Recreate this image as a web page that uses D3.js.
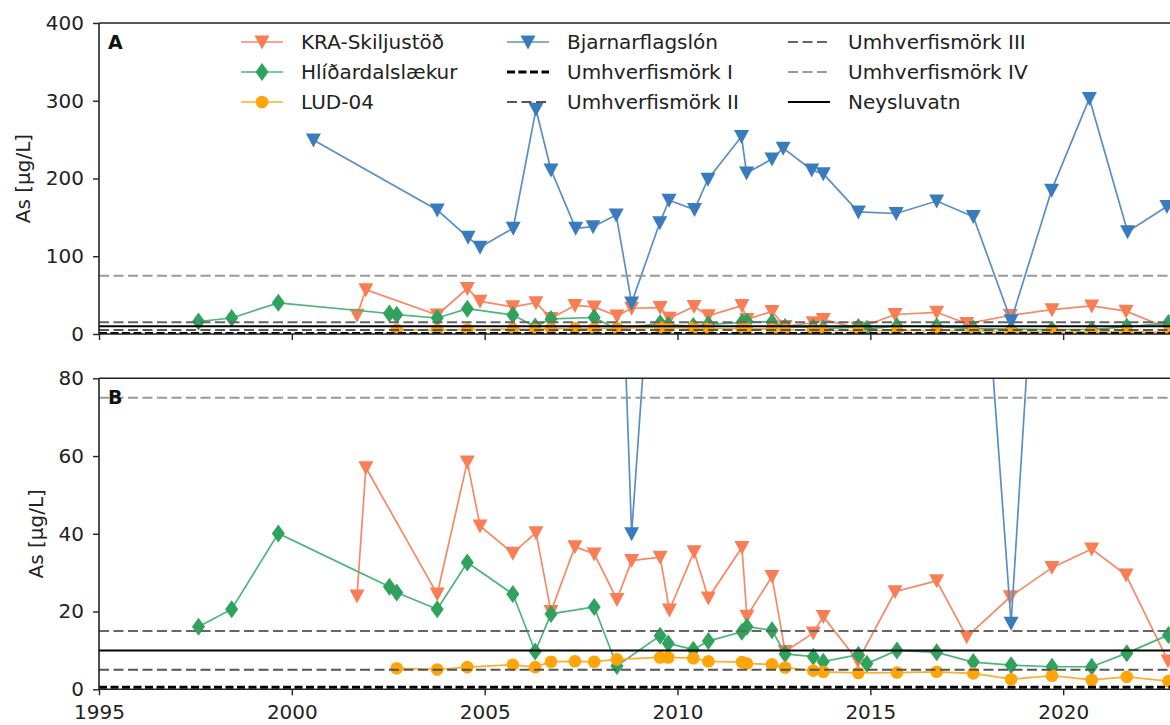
<!DOCTYPE html>
<html><head><meta charset="utf-8">
<script src="https://cdn.jsdelivr.net/npm/d3@7"></script>
<style>
body{margin:0;background:#fff;}
svg{display:block;font-family:"DejaVu Sans",sans-serif;}
</style>
</head><body>
<svg id="chart" width="1170" height="725"></svg>
<script>
// ---------- data ----------
const kraYears  = [2001.69,2001.92,2003.77,2004.55,2004.88,2005.73,2006.33,2006.72,2007.34,2007.84,2008.43,2008.81,2009.55,2009.79,2010.43,2010.80,2011.67,2011.80,2012.45,2012.79,2013.52,2013.78,2014.68,2015.64,2016.72,2017.50,2018.63,2019.71,2020.74,2021.63,2022.72];
const kraValues = [24,57,24.5,58.5,42,35,40.3,20,36.7,34.8,23.1,33.1,34,20.4,35.4,23.5,36.5,18.8,29,9.7,14.5,18.7,7.3,25.1,27.9,13.5,23.8,31.3,36.1,29.4,7.3];

const hliYears  = [1997.58,1998.44,1999.65,2002.53,2002.72,2003.77,2004.55,2005.73,2006.31,2006.72,2007.84,2008.43,2009.55,2009.76,2010.41,2010.80,2011.67,2011.80,2012.45,2012.79,2013.52,2013.78,2014.69,2014.91,2015.69,2016.72,2017.67,2018.65,2019.71,2020.74,2021.65,2022.73];
const hliValues = [16.1,20.6,40.1,26.4,24.9,20.6,32.6,24.5,9.7,19.4,21.2,6,13.8,11.8,10.2,12.4,14.8,16.1,15.2,9.1,8.4,7.1,8.9,6.6,10,9.5,7,6.2,5.8,5.8,9.3,14];

const ludYears  = [2002.72,2003.77,2004.55,2005.73,2006.31,2006.72,2007.34,2007.84,2008.43,2009.55,2009.76,2010.41,2010.80,2011.67,2011.80,2012.45,2012.79,2013.52,2013.78,2014.69,2015.69,2016.72,2017.67,2018.65,2019.71,2020.74,2021.65,2022.73];
const ludValues = [5.4,5.1,5.7,6.3,5.7,7.1,7.2,7.1,7.7,8.2,8.2,8.0,7.2,7.0,6.6,6.4,5.6,4.8,4.5,4.2,4.3,4.5,4.1,2.6,3.5,2.4,3.2,2.1];

const bjaYears  = [2000.56,2003.77,2004.57,2004.88,2005.74,2006.33,2006.72,2007.36,2007.81,2008.41,2008.81,2009.54,2009.78,2010.44,2010.79,2011.66,2011.79,2012.45,2012.74,2013.48,2013.78,2014.69,2015.67,2016.72,2017.67,2018.65,2019.70,2020.68,2021.67,2022.69];
const bjaValues = [249.5,159.5,124.4,111.5,136,289,211,136,138,153,40,143,172,160,199,254,207,225,239,211,206,157,155,171,151,17,185,303,131.5,164];

const seriesNames = ["KRA-Skiljustöð","Hlíðardalslækur","LUD-04","Bjarnarflagslón"];
const refNames  = ["Umhverfismörk I","Umhverfismörk II","Umhverfismörk III","Umhverfismörk IV","Neysluvatn"];
const refValues = [0.5,5,15,75,10];

const xTicks = [1995,2000,2005,2010,2015,2020];
const yTicksA = [0,100,200,300,400];
const yTicksB = [0,20,40,60,80];
const panelLabels = ["A","B"];
const yLabel = "As [µg/L]";

// ---------- styles ----------
const seriesStyle = [
  {color:"#f97d55", line:"#f58a66", marker:"tri"},
  {color:"#2fa25e", line:"#4cb57c", marker:"dia"},
  {color:"#ffa50a", line:"#f8b030", marker:"circ"},
  {color:"#3a7bbd", line:"#5a8fc6", marker:"tri"}
];
const refStyle = [
  {color:"#000", width:3, dash:"8,3.5"},
  {color:"#555", width:2, dash:"10,4.5"},
  {color:"#666", width:2, dash:"10,4.5"},
  {color:"#9a9a9a", width:2, dash:"10,4.5"},
  {color:"#000", width:2, dash:null}
];

const svg = d3.select("#chart");
const x = d3.scaleLinear().domain([1995, 2022.77]).range([99, 1170]);

const panels = [
  {top:23, bottom:334, domain:[0,400], ticks:yTicksA, label:panelLabels[0], ylabX:23},
  {top:378.3, bottom:689.3, domain:[0,80], ticks:yTicksB, label:panelLabels[1], ylabX:36}
];

const seriesData = [
  d3.zip(kraYears,kraValues),
  d3.zip(hliYears,hliValues),
  d3.zip(ludYears,ludValues),
  d3.zip(bjaYears,bjaValues)
];

function markerPath(type){
  if(type==="tri") return "M-7.5,-6.5L7.5,-6.5L0,7.5Z";
  if(type==="dia") return "M0,-9L6.5,0L0,9L-6.5,0Z";
  return d3.symbol(d3.symbolCircle, 125)();
}

panels.forEach((p,pi)=>{
  const y = d3.scaleLinear().domain(p.domain).range([p.bottom,p.top]);
  const g = svg.append("g");
  const clipId = "clip"+pi;
  svg.append("defs").append("clipPath").attr("id",clipId)
    .append("rect").attr("x",99).attr("y",p.top).attr("width",1170-99).attr("height",p.bottom-p.top);
  const plot = g.append("g").attr("clip-path",`url(#${clipId})`);

  // series
  seriesData.forEach((d,si)=>{
    const st = seriesStyle[si];
    plot.append("path").datum(d)
      .attr("fill","none").attr("stroke",st.line).attr("stroke-width",1.7)
      .attr("d", d3.line().x(v=>x(v[0])).y(v=>y(v[1])));
    plot.selectAll(null).data(d).enter().append("path")
      .attr("transform",v=>`translate(${x(v[0])},${y(v[1])})`)
      .attr("d",markerPath(st.marker)).attr("fill",st.color);
  });

  // reference lines
  refValues.forEach((v,ri)=>{
    const st = refStyle[ri];
    plot.append("line").attr("x1",99).attr("x2",1170).attr("y1",y(v)).attr("y2",y(v))
      .attr("stroke",st.color).attr("stroke-width",st.width)
      .attr("stroke-dasharray",st.dash);
  });

  // axes
  const ya = g.append("g").attr("transform","translate(99,0)")
    .call(d3.axisLeft(y).tickValues(p.ticks).tickSize(6).tickPadding(9));
  const xa = g.append("g").attr("transform",`translate(0,${p.bottom})`)
    .call(d3.axisBottom(x).tickValues(xTicks).tickFormat(pi===1? d3.format("d") : ()=>"").tickSize(6).tickPadding(10));
  [ya,xa].forEach(a=>{
    a.select(".domain").remove();
    a.selectAll(".tick line").attr("stroke","#222").attr("stroke-width",1.4);
    a.selectAll(".tick text").attr("font-size",20).attr("fill","#222").attr("font-family","DejaVu Sans");
  });
  // spines
  g.append("line").attr("x1",99).attr("x2",99).attr("y1",p.top).attr("y2",p.bottom).attr("stroke","#222").attr("stroke-width",1.6);
  g.append("line").attr("x1",99).attr("x2",1170).attr("y1",p.top).attr("y2",p.top).attr("stroke","#222").attr("stroke-width",1.6);
  g.append("line").attr("x1",99).attr("x2",1170).attr("y1",p.bottom).attr("y2",p.bottom).attr("stroke","#222").attr("stroke-width",1.6);

  // panel letter
  g.append("text").attr("x",108).attr("y",p.top+26).text(p.label)
    .attr("font-size",19).attr("font-weight","bold").attr("fill","#111");

  // y label
  g.append("text").attr("transform",`translate(${p.ylabX},${(p.top+p.bottom)/2}) rotate(-90)`)
    .attr("text-anchor","middle").attr("dy","0.35em").attr("font-size",20).attr("fill","#222").text(yLabel);
});

// ---------- legend ----------
const legendItems = [
  {name:seriesNames[0], kind:"s", idx:0},
  {name:seriesNames[1], kind:"s", idx:1},
  {name:seriesNames[2], kind:"s", idx:2},
  {name:seriesNames[3], kind:"s", idx:3},
  {name:refNames[0], kind:"r", idx:0},
  {name:refNames[1], kind:"r", idx:1},
  {name:refNames[2], kind:"r", idx:2},
  {name:refNames[3], kind:"r", idx:3},
  {name:refNames[4], kind:"r", idx:4}
];
const colX = [241, 507, 788];
const rowY = [42, 72, 102];
const lg = svg.append("g");
legendItems.forEach((it,i)=>{
  const cx = colX[Math.floor(i/3)], cy = rowY[i%3];
  const e = lg.append("g").attr("transform",`translate(${cx},${cy})`);
  if(it.kind==="s"){
    const st = seriesStyle[it.idx];
    e.append("line").attr("x1",0).attr("x2",42).attr("stroke",st.line).attr("stroke-width",1.7);
    e.append("path").attr("transform","translate(21,0)").attr("d",markerPath(st.marker)).attr("fill",st.color);
  } else {
    const st = refStyle[it.idx];
    e.append("line").attr("x1",0).attr("x2",42).attr("stroke",st.color).attr("stroke-width",st.width)
      .attr("stroke-dasharray",st.dash);
  }
  e.append("text").attr("x",60).attr("dy","0.35em").attr("font-size",20).attr("fill","#222").text(it.name);
});
</script>
</body></html>
